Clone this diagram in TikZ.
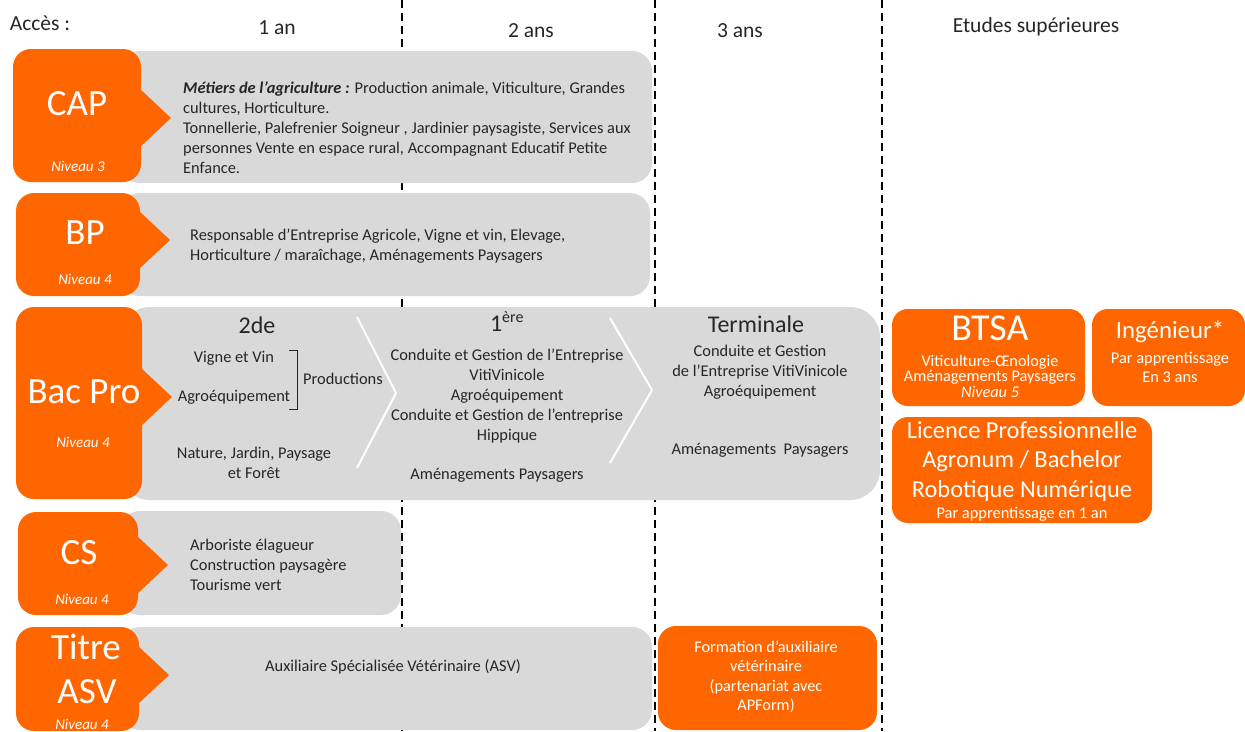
\documentclass[tikz,border=0pt]{standalone}
\usepackage{fontspec}
\setmainfont{Carlito}
\usepackage{tikz}
\usetikzlibrary{positioning}
\definecolor{orng}{HTML}{FF6600}
\definecolor{gry}{HTML}{D9D9D9}
\definecolor{txt}{HTML}{262626}
\tikzstyle{greybox}=[fill=gry, rounded corners=20pt]
\tikzstyle{tagfill}=[fill=orng]
\tikzstyle{body}=[font=\fontsize{16.4}{20}\selectfont, text=txt, inner sep=0pt, align=center]
\tikzstyle{bodyleft}=[body, align=left, anchor=west]
\tikzstyle{headtxt}=[font=\fontsize{21.5}{24}\selectfont, text=txt, inner sep=0pt]
\tikzstyle{yeartxt}=[font=\fontsize{24}{26}\selectfont, text=txt, inner sep=0pt]
\tikzstyle{bigtxt}=[font=\fontsize{37}{44}\selectfont, text=white, inner sep=0pt, align=center]
\tikzstyle{niveau}=[font=\fontsize{15}{15}\selectfont\itshape, text=white, inner sep=0pt]
\tikzstyle{wsmall}=[font=\fontsize{16.3}{19.5}\selectfont, text=white, inner sep=0pt, align=center]
\tikzstyle{colline}=[line width=1.6pt, dash pattern=on 8pt off 5pt]
\newcommand{\tagBox}[5]{
	\fill[tagfill, rounded corners=18pt] (#1,#2) rectangle (#3,#4);
	\fill[tagfill] (#3-2,#5-30) -- (#3+30,#5) -- (#3-2,#5+30) -- cycle;
}

\begin{document}
\begin{tikzpicture}[x=1pt, y=-1pt]
	\useasboundingbox (0,0) rectangle (1245,731);
	% columns
	\draw[colline] (402,0) -- (402,731);
	\draw[colline] (655,0) -- (655,731);
	\draw[colline] (882,0) -- (882,731);
	\node[headtxt] (acces) at (40,23) {Accès :};
	\node[headtxt] (an1) at (277,28) {1 an};
	\node[headtxt] (an2) at (531,31) {2 ans};
	\node[headtxt] (an3) at (740,31) {3 ans};
	\node[headtxt] (etudes) at (1036,27) {Etudes supérieures};

	% CAP
	\fill[greybox] (120,51) rectangle (652,183);
	\tagBox{13}{49}{141}{182}{118}
	\node[bigtxt] (cap) at (77,104) {CAP};
	\node[niveau] (capNiv) at (78,166) {Niveau 3};
	\node[bodyleft] (capTxt) at (183,128) {\textbf{\textit{Métiers de l’agriculture :}} Production animale, Viticulture, Grandes\\cultures, Horticulture.\\Tonnellerie, Palefrenier Soigneur , Jardinier paysagiste, Services aux\\personnes Vente en espace rural, Accompagnant Educatif Petite\\Enfance.};

	% BP
	\fill[greybox] (120,193) rectangle (650,296);
	\tagBox{16}{193}{140}{296}{240}
	\node[bigtxt] (bp) at (85,233) {BP};
	\node[niveau] (bpNiv) at (85,279) {Niveau 4};
	\node[bodyleft] (bpTxt) at (190,246) {Responsable d’Entreprise Agricole, Vigne et vin, Elevage,\\Horticulture / maraîchage, Aménagements Paysagers};

	% Bac Pro
	\fill[greybox, rounded corners=30pt] (120,307) rectangle (880,500);
	\tagBox{16}{307}{142}{499}{397}
	\node[bigtxt] (bacpro) at (84,392) {Bac Pro};
	\node[niveau] (bacNiv) at (83,442) {Niveau 4};
	\draw[white, line width=2pt] (357,317) -- (396,393) -- (357,468);
	\draw[white, line width=2pt] (610,318) -- (652,390) -- (610,463);
	\node[yeartxt] (seconde) at (257,325) {2de};
	\node[body] (vigne) at (234,358) {Vigne et Vin};
	\node[body] (agro1) at (234,397) {Agroéquipement};
	\draw[txt, line width=0.8pt] (289,350) -- (297,350) -- (297,409) -- (289,409);
	\node[body] (prod) at (343,379) {Productions};
	\node[body] (nature) at (254,463) {Nature, Jardin, Paysage\\et Forêt};
	\node[yeartxt] (premiere) at (507,322) {1\textsuperscript{\fontsize{16}{16}\selectfont ère}};
	\node[body] (premTxt) at (507,396) {Conduite et Gestion de l’Entreprise\\VitiVinicole\\Agroéquipement\\Conduite et Gestion de l’entreprise\\Hippique};
	\node[body] (premAmen) at (497,475) {Aménagements Paysagers};
	\node[yeartxt] (terminale) at (756,324) {Terminale};
	\node[body] (termTxt) at (760,372) {Conduite et Gestion\\de l’Entreprise VitiVinicole\\Agroéquipement};
	\node[body] (termAmen) at (760,450) {Aménagements~~Paysagers};

	% CS
	\fill[greybox] (120,511) rectangle (401,615);
	\tagBox{18}{512}{138}{615}{565}
	\node[bigtxt] (cs) at (79,553) {CS};
	\node[niveau] (csNiv) at (82,599) {Niveau 4};
	\node[bodyleft] (csTxt) at (190,565) {Arboriste élagueur\\Construction paysagère\\Tourisme vert};

	% Titre ASV
	\fill[greybox] (120,627) rectangle (652,730);
	\tagBox{16}{627}{139}{731}{675}
	\node[bigtxt] (titre) at (86,647) {Titre};
	\node[bigtxt] (asv) at (87,692) {ASV};
	\node[niveau] (asvNiv) at (82,724) {Niveau 4};
	\node[body] (asvTxt) at (393,667) {Auxiliaire Spécialisée Vétérinaire (ASV)};
	\fill[tagfill, rounded corners=18pt] (658,626) rectangle (877,730);
	\node[wsmall] (formation) at (766,677) {Formation d’auxiliaire\\vétérinaire\\(partenariat avec\\APForm)};

	% etudes superieures
	\fill[tagfill, rounded corners=16pt] (892,309) rectangle (1085,406);
	\node[bigtxt, font=\fontsize{38}{40}\selectfont] (btsa) at (990,328) {BTSA};
	\node[wsmall, font=\fontsize{16.3}{15.5}\selectfont] (btsaTxt) at (990,376) {Viticulture-Œnologie\\Aménagements Paysagers\\\textit{Niveau 5}};
	\fill[tagfill, rounded corners=16pt] (1092,309) rectangle (1245,406);
	\node[bigtxt, font=\fontsize{24.8}{26}\selectfont] (inge) at (1170,332) {Ingénieur*};
	\node[wsmall, font=\fontsize{16.4}{19}\selectfont] (ingeTxt) at (1170,367) {Par apprentissage\\En 3 ans};
	\fill[tagfill, rounded corners=16pt] (892,417) rectangle (1152,523);
	\node[bigtxt, font=\fontsize{24.4}{29.5}\selectfont] (licence) at (1022,461) {Licence Professionnelle\\Agronum / Bachelor\\Robotique Numérique};
	\node[wsmall, font=\fontsize{16.4}{15}\selectfont] (licTxt) at (1022,514) {Par apprentissage en 1 an};
\end{tikzpicture}
\end{document}
